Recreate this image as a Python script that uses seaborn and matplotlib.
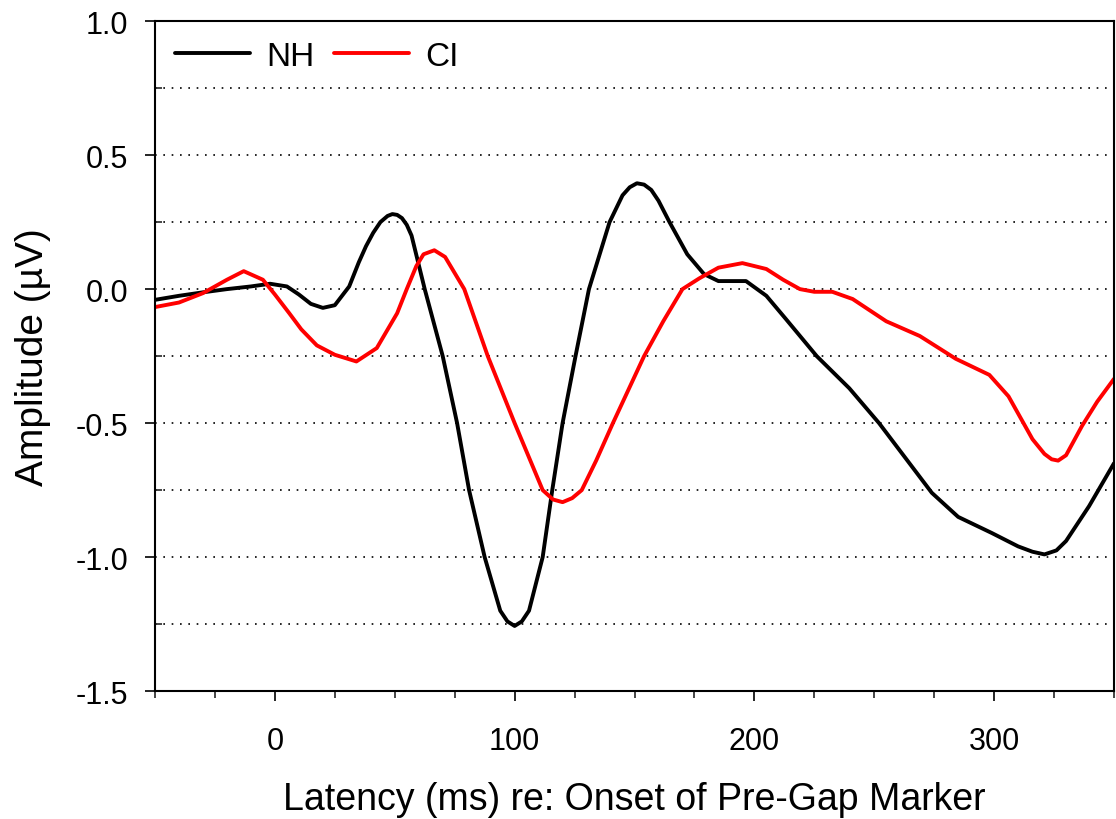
import numpy as np
import pandas as pd
import matplotlib
matplotlib.use("Agg")
import matplotlib.pyplot as plt
from matplotlib.ticker import MultipleLocator, FormatStrFormatter
import seaborn as sns

# Latency (ms) and amplitude (uV)
nh_latency = [-50, -40, -30, -20, -10, -2, 5, 10, 15, 20, 25, 31, 35, 38, 41, 44, 47, 49,
              51, 53, 55, 57, 62.5, 70, 76, 81, 87.5, 94, 97, 100, 103, 106, 111.7, 115.7,
              120, 125.4, 131, 139.6, 145, 148, 151, 154, 157, 160, 164.6, 172, 179, 185,
              191, 196.5, 205, 213, 226, 239.6, 252, 263, 274, 285, 299, 310, 316, 321,
              326, 330, 339.6, 350]
nh_amp = [-0.04, -0.025, -0.012, 0.0, 0.01, 0.02, 0.01, -0.02, -0.055, -0.07, -0.06, 0.01,
          0.1, 0.16, 0.21, 0.25, 0.273, 0.28, 0.277, 0.265, 0.24, 0.2, 0.0, -0.25, -0.5,
          -0.75, -1.0, -1.2, -1.24, -1.257, -1.24, -1.2, -1.0, -0.75, -0.5, -0.25, 0.0,
          0.25, 0.35, 0.38, 0.395, 0.39, 0.37, 0.33, 0.25, 0.13, 0.056, 0.03, 0.03, 0.03,
          -0.025, -0.11, -0.25, -0.37, -0.5, -0.63, -0.76, -0.85, -0.91, -0.96, -0.98,
          -0.99, -0.975, -0.94, -0.81, -0.65]

ci_latency = [-50, -40, -30, -20, -13, -5, 0, 6, 11, 17.5, 25, 34, 42.5, 51, 55, 59, 62,
              66.5, 71, 79, 88.8, 100, 111.7, 116, 120, 124, 128, 134, 141, 154, 162, 170,
              177, 185, 195, 205, 212, 219, 225, 232.5, 241, 255, 269, 284, 298, 306, 316,
              321, 324, 326.7, 330, 336.7, 343, 350]
ci_amp = [-0.067, -0.05, -0.015, 0.035, 0.067, 0.035, -0.02, -0.09, -0.15, -0.21, -0.245,
          -0.27, -0.22, -0.09, 0.0, 0.086, 0.13, 0.145, 0.12, 0.0, -0.25, -0.5, -0.75,
          -0.785, -0.795, -0.78, -0.75, -0.64, -0.5, -0.25, -0.12, 0.0, 0.04, 0.08, 0.097,
          0.075, 0.035, 0.0, -0.01, -0.01, -0.037, -0.12, -0.175, -0.26, -0.32, -0.4, -0.56,
          -0.615, -0.635, -0.64, -0.62, -0.51, -0.42, -0.335]

groups = ["NH", "CI"]
colors = ["black", "#ff0000"]

df = pd.concat([
    pd.DataFrame({"latency": nh_latency, "amp": nh_amp, "group": "NH"}),
    pd.DataFrame({"latency": ci_latency, "amp": ci_amp, "group": "CI"}),
], ignore_index=True)

sns.set_style("ticks")
plt.rcParams["font.family"] = ["Liberation Sans", "DejaVu Sans"]
plt.rcParams["text.color"] = "black"
plt.rcParams["axes.labelcolor"] = "black"
plt.rcParams["lines.solid_joinstyle"] = "round"

fig = plt.figure(figsize=(11.16, 8.2), dpi=100)
ax = fig.add_axes([0.1389, 0.156, 0.8593, 0.817])

# dotted grid at every 0.25 inside the frame
for yv in np.arange(-1.25, 1.0, 0.25):
    ax.axhline(yv, color="black", lw=1.2, ls=(0, (1, 4)), zorder=0)

sns.lineplot(data=df, x="latency", y="amp", hue="group", hue_order=groups,
             palette=colors, sort=False, estimator=None, lw=2.8, ax=ax)

ax.set_xlim(-50, 350)
ax.set_ylim(-1.5, 1.0)
ax.xaxis.set_major_locator(MultipleLocator(100))
ax.xaxis.set_minor_locator(MultipleLocator(25))
ax.yaxis.set_major_locator(MultipleLocator(0.5))
ax.yaxis.set_minor_locator(MultipleLocator(0.25))
ax.yaxis.set_major_formatter(FormatStrFormatter("%.1f"))
ax.tick_params(axis="both", which="major", direction="out", length=7.5, width=1.2,
               labelsize=22, color="black", labelcolor="black")
ax.tick_params(axis="x", which="major", pad=18)
ax.tick_params(axis="y", which="major", pad=12)
ax.tick_params(axis="x", which="minor", direction="out", length=5, width=1.2)
ax.tick_params(axis="y", which="minor", direction="in", length=5, width=1.2)
for s in ax.spines.values():
    s.set_visible(True)
    s.set_linewidth(1.5)
    s.set_color("black")

ax.set_xlabel("Latency (ms) re: Onset of Pre-Gap Marker", fontsize=27, labelpad=18)
ax.set_ylabel("Amplitude (µV)", fontsize=28)
ax.yaxis.set_label_coords(-0.108, 0.5)

ax.legend(loc="upper left", ncol=2, frameon=False, fontsize=24, handlelength=2.25,
          handletextpad=0.5, columnspacing=0.57, borderaxespad=0.2,
          bbox_to_anchor=(0.0, 1.0))

fig.savefig("out.png", dpi=100)
